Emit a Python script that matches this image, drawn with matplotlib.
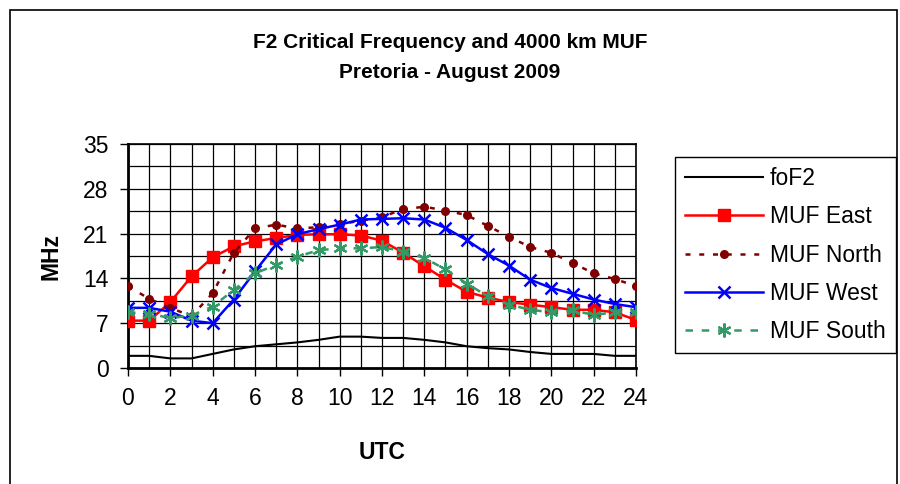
import matplotlib
matplotlib.use("Agg")
import matplotlib.pyplot as plt
from matplotlib.patches import Rectangle
import numpy as np

plt.rcParams['font.family'] = ['Liberation Sans', 'DejaVu Sans']

# --- DATA ---
hours = list(range(25))
fof2 = [1.9, 1.9, 1.5, 1.5, 2.2, 2.9, 3.4, 3.7, 4.0, 4.4, 4.9, 4.9, 4.7,
        4.7, 4.4, 4.0, 3.4, 3.1, 2.9, 2.5, 2.2, 2.2, 2.2, 1.9, 1.9]
muf_east = [7.4, 7.4, 10.3, 14.3, 17.3, 19.0, 19.8, 20.3, 20.8, 20.9, 20.9, 20.7, 19.9,
            18.0, 15.9, 13.8, 11.9, 11.0, 10.3, 9.9, 9.5, 9.1, 9.1, 8.7, 7.5]
muf_north = [12.8, 10.8, 9.4, 8.1, 11.7, 18.0, 21.8, 22.4, 21.8, 22.0, 22.5, 23.0, 23.6,
             24.8, 25.2, 24.6, 23.9, 22.2, 20.5, 18.9, 18.0, 16.4, 14.8, 13.9, 12.8]
muf_west = [9.4, 9.4, 8.8, 7.4, 7.0, 10.7, 15.1, 19.3, 20.9, 21.7, 22.4, 23.2, 23.3,
            23.4, 23.2, 21.9, 20.0, 17.8, 16.0, 13.8, 12.5, 11.6, 10.7, 10.0, 9.5]
muf_south = [8.7, 8.5, 7.8, 8.2, 9.6, 12.2, 14.8, 16.1, 17.4, 18.4, 18.7, 18.7, 18.9,
             18.2, 17.2, 15.4, 13.2, 11.2, 9.9, 9.1, 8.7, 9.0, 8.3, 8.7, 8.8]

FS = 16.5

fig = plt.figure(figsize=(9, 4.84), dpi=100)
ax = fig.add_axes([128 / 900, 1 - 368 / 484, 508 / 900, 224 / 484])

# outer chart border
fig.patches.append(Rectangle((10 / 900, -0.05), 887 / 900, 1 - 10 / 484 + 0.05,
                             transform=fig.transFigure, fill=False,
                             edgecolor='black', linewidth=1.2))

ax.plot(hours, fof2, color='black', lw=1.5, label='foF2', zorder=3)
ax.plot(hours, muf_east, color='#ff0000', lw=1.8, marker='s', ms=8,
        label='MUF East', zorder=4)
ax.plot(hours, muf_north, color='#800000', lw=1.8, ls=(0, (2, 3.5)), marker='o', ms=5.5,
        label='MUF North', zorder=4)
ax.plot(hours, muf_west, color='#0000ff', lw=1.8, marker='x', ms=9, mew=1.8,
        label='MUF West', zorder=4)
ax.plot(hours, muf_south, color='#339966', lw=1.8, ls=(0, (3, 3.5)), marker=(6, 2, 0), ms=10,
        mew=1.6, label='MUF South', zorder=4)

ax.set_xlim(0, 24)
ax.set_ylim(0, 35)
ax.set_xticks(range(0, 25, 2))
ax.set_xticks(range(0, 25), minor=True)
ax.set_yticks(range(0, 36, 7))
ax.set_yticks(np.arange(0, 35.1, 3.5), minor=True)
ax.grid(True, which='both', color='black', lw=0.9)
ax.tick_params(which='major', direction='out', length=6, width=1, labelsize=FS, pad=8)
ax.tick_params(which='minor', length=0)
for sp in ax.spines.values():
    sp.set_linewidth(1.2)
ax.spines['left'].set_linewidth(2)
ax.spines['bottom'].set_linewidth(2)

ax.set_xlabel('UTC', fontsize=FS, fontweight='bold', labelpad=22)
ax.set_ylabel('MHz', fontsize=FS, fontweight='bold', labelpad=15)

fig.text(0.5, 1 - 42 / 484, 'F2 Critical Frequency and 4000 km MUF',
         ha='center', va='center', fontsize=15, fontweight='bold')
fig.text(0.5, 1 - 72 / 484, 'Pretoria - August 2009',
         ha='center', va='center', fontsize=15, fontweight='bold')

leg = ax.legend(loc='upper left', bbox_to_anchor=(675 / 900, 1 - 157 / 484),
                bbox_transform=fig.transFigure, fontsize=FS, frameon=True,
                fancybox=False, framealpha=1, edgecolor='black',
                handlelength=3.4, handletextpad=0.3, labelspacing=0.66,
                borderpad=0.45, borderaxespad=0)
leg.get_frame().set_linewidth(1.0)

fig.savefig('out.png', dpi=100)
